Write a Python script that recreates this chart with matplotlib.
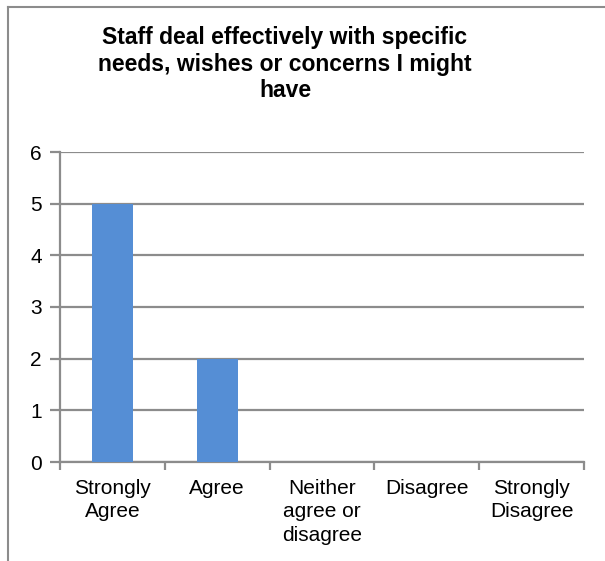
import matplotlib.pyplot as plt
import numpy as np
from matplotlib.lines import Line2D

plt.rcParams['font.family'] = ['Liberation Sans', 'DejaVu Sans']

categories = ['Strongly\nAgree', 'Agree', 'Neither\nagree or\ndisagree',
              'Disagree', 'Strongly\nDisagree']
counts = [5, 2, 0, 0, 0]
y_ticks = [0, 1, 2, 3, 4, 5, 6]
title = 'Staff deal effectively with specific\nneeds, wishes or concerns I might\nhave'

W, H = 605, 561
fig = plt.figure(figsize=(W / 100, H / 100), dpi=100)
fig.patch.set_facecolor('white')

# plot area in pixels
x0, x1 = 60, 584
y_top, y_bot = 152, 462
ax = fig.add_axes([x0 / W, 1 - y_bot / H, (x1 - x0) / W, (y_bot - y_top) / H])

grid_col = '#8c8c8c'
bar_col = '#558ed5'

x = np.arange(len(categories))
ax.bar(x, counts, width=0.39, color=bar_col, zorder=3)
ax.set_xlim(-0.5, len(categories) - 0.5)
ax.set_ylim(0, 6)

ax.set_yticks(y_ticks)
ax.set_yticklabels([str(v) for v in y_ticks], fontsize=15)
ax.yaxis.grid(True, color=grid_col, linewidth=1.6, zorder=1)
ax.set_axisbelow(True)

# category labels between boundary ticks
ax.set_xticks(np.arange(len(categories) + 1) - 0.5)
ax.set_xticklabels([])
ax.set_xticks(x, minor=True)
ax.set_xticklabels(categories, minor=True, fontsize=15, linespacing=1.32)
ax.tick_params(axis='x', which='minor', length=0, pad=12)
ax.tick_params(axis='x', which='major', length=6, width=1.6, color=grid_col, direction='out')
ax.tick_params(axis='y', length=7, width=1.6, color=grid_col, pad=6)

for side in ['top', 'right']:
    ax.spines[side].set_visible(False)
for side in ['left', 'bottom']:
    ax.spines[side].set_color(grid_col)
    ax.spines[side].set_linewidth(1.6)

fig.text(285 / W, 1 - 26 / H, title, ha='center', va='top', fontsize=16.5,
         fontweight='bold', linespacing=1.2)

# outer chart frame
fig.add_artist(Line2D([8 / W, 8 / W], [0, 1 - 7 / H], color='#8c8c8c', linewidth=1.5,
                      transform=fig.transFigure))
fig.add_artist(Line2D([8 / W, 1], [1 - 7 / H, 1 - 7 / H], color='#8c8c8c', linewidth=1.5,
                      transform=fig.transFigure))

fig.savefig('out.png', dpi=100)
